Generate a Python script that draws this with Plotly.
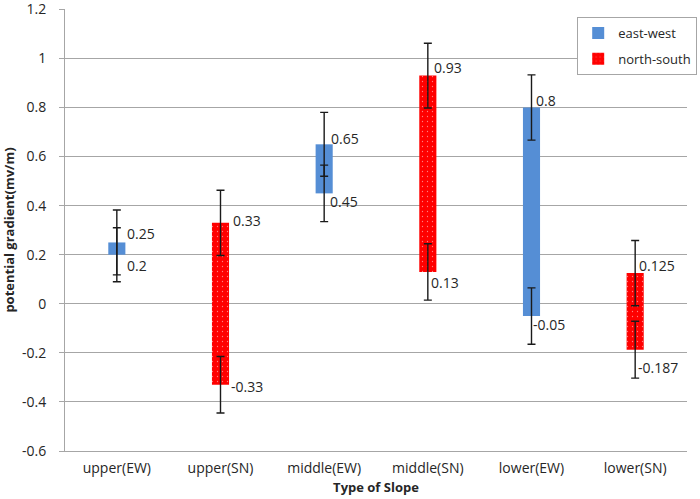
import plotly.graph_objects as go

categories = ["upper(EW)", "upper(SN)", "middle(EW)", "middle(SN)", "lower(EW)", "lower(SN)"]
series = ["east-west", "north-south", "east-west", "north-south", "east-west", "north-south"]
high = [0.25, 0.33, 0.65, 0.93, 0.8, 0.125]
low = [0.2, -0.33, 0.45, 0.13, -0.05, -0.187]
err_high = [0.132, 0.133, 0.13, 0.132, 0.133, 0.133]
err_low = [0.11, 0.115, 0.115, 0.115, 0.115, 0.116]
label_high = ["0.25", "0.33", "0.65", "0.93", "0.8", "0.125"]
label_low = ["0.2", "-0.33", "0.45", "0.13", "-0.05", "-0.187"]
y_ticks = [1.2, 1.0, 0.8, 0.6, 0.4, 0.2, 0.0, -0.2, -0.4, -0.6]
y_tick_text = ["1.2", "1", "0.8", "0.6", "0.4", "0.2", "0", "-0.2", "-0.4", "-0.6"]

# label pixel offsets (style): dx right of category centre, dy downward
dx_high = [10, 12, 7, 6.5, 4.7, 4.3]
dy_high = [-9, -2, -6.3, -8, -6.7, -8]
dx_low = [10, 10, 6, 3.5, 1.7, 3.3]
dy_low = [11, 1.5, 7.7, 10.5, 8.8, 18]

FONT = "Open Sans"
BLUE = "#558ED5"
RED = "#FF0000"
TXT = "#262626"

fig = go.Figure()

for name, color in [("east-west", BLUE), ("north-south", RED)]:
    xs = [c for c, s in zip(categories, series) if s == name]
    bases = [l for l, s in zip(low, series) if s == name]
    heights = [h - l for h, l, s in zip(high, low, series) if s == name]
    marker = dict(color=color, line=dict(width=0))
    if name == "north-south":
        marker["pattern"] = dict(shape=".", fgcolor="white", bgcolor=RED,
                                 size=5, solidity=0.05)
    fig.add_trace(go.Bar(x=xs, y=heights, base=bases, name=name, width=0.165,
                         marker=marker, legendgroup=name))

# error bars at both ends of each bar
for vals, errs in [(high, err_high), (low, err_low)]:
    fig.add_trace(go.Scatter(x=categories, y=vals, mode="markers",
                             marker=dict(size=1, color="rgba(0,0,0,0)"),
                             error_y=dict(type="data", array=errs, symmetric=True,
                                          color="#1a1a1a", thickness=1.4, width=4),
                             showlegend=False, hoverinfo="skip"))

for i, c in enumerate(categories):
    fig.add_annotation(x=c, y=high[i], text=label_high[i], showarrow=False,
                       xanchor="left", yanchor="middle",
                       xshift=dx_high[i] - 2, yshift=-dy_high[i],
                       font=dict(family=FONT, size=14, color=TXT))
    fig.add_annotation(x=c, y=low[i], text=label_low[i], showarrow=False,
                       xanchor="left", yanchor="middle",
                       xshift=dx_low[i] - 2, yshift=-dy_low[i],
                       font=dict(family=FONT, size=14, color=TXT))

fig.update_layout(
    width=700, height=499,
    margin=dict(l=65, r=13, t=9, b=48, autoexpand=False),
    plot_bgcolor="white", paper_bgcolor="white",
    barmode="overlay",
    font=dict(family=FONT, size=14, color=TXT),
    legend=dict(xref="container", yref="container",
                x=0.996, xanchor="right", y=0.966, yanchor="top",
                bgcolor="white", bordercolor="#a6a6a6", borderwidth=1,
                font=dict(family=FONT, size=13, color=TXT),
                itemwidth=30, traceorder="grouped", tracegroupgap=6),
    showlegend=True,
)
fig.update_xaxes(type="category", categoryorder="array", categoryarray=categories,
                 range=[-0.5, 5.5], showline=True, linecolor="#a6a6a6", linewidth=1,
                 showgrid=False, ticks="", automargin=False,
                 ticklabelstandoff=4,
                 tickfont=dict(family=FONT, size=14, color=TXT),
                 title=dict(text="<b>Type of Slope</b>", font=dict(family=FONT, size=13, color=TXT),
                            standoff=7))
fig.update_yaxes(range=[-0.6, 1.2015], tickvals=y_ticks, ticktext=y_tick_text,
                 showline=True, linecolor="#a6a6a6", linewidth=1,
                 showgrid=True, gridcolor="#a6a6a6", gridwidth=1, automargin=False,
                 zeroline=False, ticks="outside", ticklen=5, tickcolor="#a6a6a6",
                 ticklabelstandoff=10, ticklabeloverflow="allow",
                 tickfont=dict(family=FONT, size=14, color=TXT),
                 title=dict(text="<b>potential gradient(mv/m)</b>",
                            font=dict(family=FONT, size=13, color=TXT), standoff=4))

fig.write_html("out.html", config={"displayModeBar": False},
               post_script="document.body.style.margin='0';")
